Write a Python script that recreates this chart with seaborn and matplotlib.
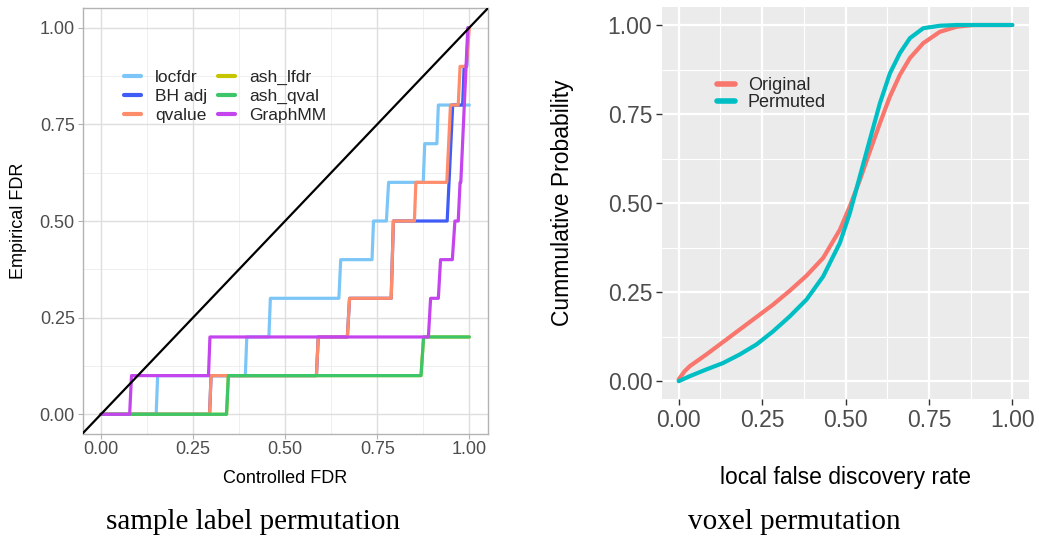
import numpy as np
import pandas as pd
import matplotlib
matplotlib.use("Agg")
import matplotlib.pyplot as plt
import seaborn as sns

# ---------------- data: left panel (step curves) ----------------
methods = ["locfdr", "BH adj", "qvalue", "ash_lfdr", "ash_qval", "GraphMM"]
method_colors = ["#7CC6F7", "#3F5CF6", "#FF8C6A", "#C6C600", "#3DC56A", "#C445EE"]

locfdr_x = [0, 0.150, 0.154, 0.392, 0.396, 0.456, 0.460, 0.646, 0.651, 0.736, 0.740, 0.775, 0.781, 0.875, 0.879, 0.912, 0.916, 1.0]
locfdr_y = [0, 0, 0.1, 0.1, 0.2, 0.2, 0.3, 0.3, 0.4, 0.4, 0.5, 0.5, 0.6, 0.6, 0.7, 0.7, 0.8, 0.8]

bh_x = [0, 0.295, 0.299, 0.585, 0.590, 0.669, 0.675, 0.788, 0.794, 0.940, 0.955, 0.982, 0.986, 0.993, 0.997]
bh_y = [0, 0, 0.1, 0.1, 0.2, 0.2, 0.3, 0.3, 0.5, 0.5, 0.8, 0.8, 0.9, 0.9, 1.0]

qvalue_x = [0, 0.295, 0.299, 0.585, 0.590, 0.669, 0.675, 0.788, 0.794, 0.851, 0.855, 0.939, 0.949, 0.970, 0.975, 0.992, 1.0]
qvalue_y = [0, 0, 0.1, 0.1, 0.2, 0.2, 0.3, 0.3, 0.5, 0.5, 0.6, 0.6, 0.8, 0.8, 0.9, 0.9, 1.0]

ash_lfdr_x = [0, 0.341, 0.346, 0.869, 0.876, 1.0]
ash_lfdr_y = [0, 0, 0.1, 0.1, 0.2, 0.2]

ash_qval_x = [0, 0.341, 0.346, 0.869, 0.876, 1.0]
ash_qval_y = [0, 0, 0.1, 0.1, 0.2, 0.2]

graphmm_x = [0, 0.078, 0.083, 0.292, 0.296, 0.889, 0.895, 0.916, 0.922, 0.954, 0.961, 0.970, 0.975, 0.977, 0.996]
graphmm_y = [0, 0, 0.1, 0.1, 0.2, 0.2, 0.3, 0.3, 0.4, 0.4, 0.5, 0.5, 0.6, 0.6, 1.0]

# ---------------- data: right panel (ECDF curves) ----------------
groups = ["Original", "Permuted"]
group_colors = ["#F8766D", "#00BFC4"]

orig_x = [0.0, 0.017, 0.033, 0.083, 0.133, 0.183, 0.233, 0.283, 0.333, 0.383, 0.433, 0.483, 0.513,
          0.543, 0.573, 0.603, 0.633, 0.663, 0.693, 0.733, 0.783, 0.833, 0.883, 1.0]
orig_y = [0.005, 0.027, 0.042, 0.075, 0.110, 0.145, 0.180, 0.215, 0.254, 0.296, 0.346, 0.425, 0.491,
          0.565, 0.645, 0.724, 0.799, 0.860, 0.907, 0.949, 0.981, 0.995, 1.0, 1.0]

perm_x = [0.0, 0.033, 0.083, 0.133, 0.183, 0.233, 0.283, 0.333, 0.383, 0.433, 0.483, 0.513,
          0.543, 0.573, 0.603, 0.633, 0.663, 0.693, 0.733, 0.783, 0.833, 1.0]
perm_y = [0.0, 0.014, 0.033, 0.051, 0.075, 0.103, 0.140, 0.182, 0.229, 0.294, 0.388, 0.472,
          0.575, 0.678, 0.780, 0.864, 0.921, 0.963, 0.991, 0.998, 1.0, 1.0]

ticks = [0.0, 0.25, 0.5, 0.75, 1.0]
tick_labels = ["0.00", "0.25", "0.50", "0.75", "1.00"]

# ---------------- build tables ----------------
series = {
    "locfdr": (locfdr_x, locfdr_y),
    "BH adj": (bh_x, bh_y),
    "qvalue": (qvalue_x, qvalue_y),
    "ash_lfdr": (ash_lfdr_x, ash_lfdr_y),
    "ash_qval": (ash_qval_x, ash_qval_y),
    "GraphMM": (graphmm_x, graphmm_y),
}
left_df = pd.concat([pd.DataFrame({"x": xs, "y": ys, "method": m}) for m, (xs, ys) in series.items()],
                    ignore_index=True)
right_df = pd.concat([
    pd.DataFrame({"x": orig_x, "y": orig_y, "group": "Original"}),
    pd.DataFrame({"x": perm_x, "y": perm_y, "group": "Permuted"}),
], ignore_index=True)

sns.set_theme(style="white")
plt.rcParams["font.family"] = ["Liberation Sans", "DejaVu Sans"]

W, H = 1039, 539
fig = plt.figure(figsize=(W / 100, H / 100), dpi=100)

def box(l, t, r, b):
    return [l / W, 1 - b / H, (r - l) / W, (b - t) / H]

# ---------------- left panel ----------------
ax1 = fig.add_axes(box(82.5, 8.4, 487.7, 433.6))
ax1.set_facecolor("white")
for v in [0.125, 0.375, 0.625, 0.875]:
    ax1.axvline(v, color="#EDEDED", lw=0.6, zorder=0)
    ax1.axhline(v, color="#EDEDED", lw=0.6, zorder=0)
for v in ticks:
    ax1.axvline(v, color="#DEDEDE", lw=1.0, zorder=0)
    ax1.axhline(v, color="#DEDEDE", lw=1.0, zorder=0)

sns.lineplot(data=left_df, x="x", y="y", hue="method", hue_order=methods,
             palette=dict(zip(methods, method_colors)), estimator=None, sort=False,
             lw=2.3, ax=ax1)
ax1.axline((0, 0), (1, 1), color="black", lw=1.6, zorder=5)
ax1.set_xlim(-0.05, 1.05)
ax1.set_ylim(-0.05, 1.05)
ax1.set_xticks(ticks)
ax1.set_xticklabels(tick_labels)
ax1.set_yticks(ticks)
ax1.set_yticklabels(tick_labels)
ax1.tick_params(axis="both", length=3.5, width=0.8, color="#B3B3B3", labelcolor="#4D4D4D",
                labelsize=13, pad=2, direction="out", bottom=True, left=True)
for s in ax1.spines.values():
    s.set_color("#B3B3B3")
    s.set_linewidth(1.0)
ax1.set_xlabel("Controlled FDR", fontsize=13, color="black")
ax1.set_ylabel("Empirical FDR", fontsize=13, color="black")
ax1.xaxis.set_label_coords(0.5, -0.085)
ax1.yaxis.set_label_coords(-0.137, 0.5)
leg1 = ax1.legend(ncol=2, frameon=False, loc="upper left", bbox_to_anchor=(0.085, 0.872),
                  fontsize=12.5, handlelength=1.0, handletextpad=0.8, labelspacing=0.22,
                  columnspacing=0.6, borderaxespad=0)
for h in leg1.get_lines():
    h.set_linewidth(3.0)

# ---------------- right panel ----------------
ax2 = fig.add_axes(box(662, 7.2, 1029, 399))
ax2.set_facecolor("#EBEBEB")
for v in [0.125, 0.375, 0.625, 0.875]:
    ax2.axvline(v, color="white", lw=0.8, zorder=0)
    ax2.axhline(v, color="white", lw=0.8, zorder=0)
for v in ticks:
    ax2.axvline(v, color="white", lw=1.6, zorder=0)
    ax2.axhline(v, color="white", lw=1.6, zorder=0)
sns.lineplot(data=right_df, x="x", y="y", hue="group", hue_order=groups,
             palette=dict(zip(groups, group_colors)), estimator=None, sort=False,
             lw=3.0, ax=ax2)
ax2.set_xlim(-0.05, 1.05)
ax2.set_ylim(-0.05, 1.05)
ax2.set_xticks(ticks)
ax2.set_xticklabels(tick_labels)
ax2.set_yticks(ticks)
ax2.set_yticklabels(tick_labels)
ax2.tick_params(axis="both", length=4, width=1.0, color="#333333", labelcolor="#4D4D4D",
                labelsize=16.5, pad=3, direction="out", bottom=True, left=True)
for s in ax2.spines.values():
    s.set_visible(False)
ax2.set_xlabel("local false discovery rate", fontsize=16.5, color="black")
ax2.set_ylabel("Cummulative Probability", fontsize=16.5, color="black")
ax2.xaxis.set_label_coords(0.5, -0.17)
ax2.yaxis.set_label_coords(-0.24, 0.5)
leg2 = ax2.legend(frameon=False, loc="upper left", bbox_to_anchor=(0.13, 0.84),
                  fontsize=13, handlelength=1.0, handletextpad=0.7, labelspacing=0.0,
                  borderaxespad=0)
for h in leg2.get_lines():
    h.set_linewidth(4.0)

# ---------------- captions ----------------
fig.text(252.8 / W, 1 - 521.7 / H, "sample label permutation", ha="center", va="center",
         fontsize=21, family=["Liberation Serif", "DejaVu Serif"], color="black")
fig.text(794.7 / W, 1 - 521.7 / H, "voxel permutation", ha="center", va="center",
         fontsize=21, family=["Liberation Serif", "DejaVu Serif"], color="black")

fig.savefig("out.png", dpi=100, facecolor="white")
